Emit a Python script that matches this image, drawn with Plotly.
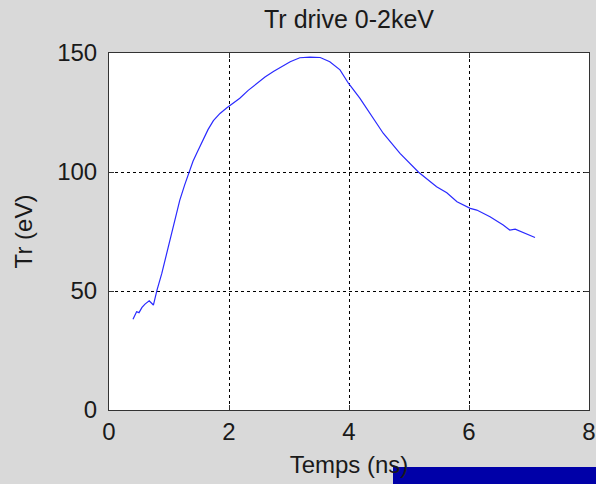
import plotly.graph_objects as go

# Radiation temperature of the drive, 0-2 keV band
time_ns = [0.40, 0.46, 0.50, 0.55, 0.60, 0.67, 0.74, 0.80, 0.88, 0.96, 1.05,
           1.12, 1.18, 1.26, 1.33, 1.40, 1.46, 1.57, 1.65, 1.74, 1.85, 1.96,
           2.07, 2.18, 2.32, 2.46, 2.60, 2.74, 2.88, 3.02, 3.18, 3.35, 3.52,
           3.68, 3.85, 3.99, 4.18, 4.35, 4.57, 4.85, 5.16, 5.46, 5.63, 5.80,
           6.02, 6.13, 6.35, 6.57, 6.68, 6.77, 6.90, 7.10]
tr_ev = [38.1, 41.3, 40.9, 43.1, 44.5, 45.9, 44.1, 50.4, 57.4, 65.8, 74.9,
         82.5, 88.2, 94.5, 99.9, 104.5, 107.8, 113.4, 117.8, 121.6, 124.6, 126.9,
         129.0, 131.0, 134.3, 137.3, 139.9, 142.2, 144.4, 146.3, 148.0, 148.3, 148.1,
         146.3, 142.9, 137.3, 131.0, 124.7, 116.3, 107.8, 99.9, 93.8, 91.3, 87.5,
         84.7, 84.0, 81.2, 77.7, 75.6, 76.0, 74.5, 72.5]

x_ticks = [0, 2, 4, 6, 8]
y_ticks = [0, 50, 100, 150]

W, H = 596, 484
ML, MR, MT, MB = 109, 7, 53, 74
PW, PH = W - ML - MR, H - MT - MB

font_family = "Liberation Sans, Arial, sans-serif"
ink = "#1a1a1a"

fig = go.Figure(go.Scatter(
    x=time_ns, y=tr_ev, mode="lines",
    line=dict(color="#2a2aff", width=1.2),
    showlegend=False,
))

axis_common = dict(
    showline=True, linecolor="#333333", linewidth=1, mirror="allticks",
    ticks="inside", ticklen=5, tickcolor="#333333",
    showgrid=True, gridcolor="#000000", gridwidth=1, griddash="3px,3px",
    zeroline=False, automargin=False,
    tickfont=dict(size=24, color=ink, family=font_family),
)

fig.update_xaxes(range=[0, 8], tickvals=x_ticks,
                 title=dict(text="Temps (ns)", standoff=12,
                            font=dict(size=24, color=ink, family=font_family)),
                 **axis_common)
fig.update_yaxes(range=[0, 150], tickvals=y_ticks, ticklabelstandoff=6,
                 title=dict(text="Tr (eV)", standoff=17,
                            font=dict(size=24, color=ink, family=font_family)),
                 **axis_common)

# Dark blue banner across the lower right corner of the canvas
BANNER_LEFT, BANNER_TOP = 393, 467
plot_bottom = H - MB
fig.add_shape(type="rect", xref="paper", yref="paper",
              x0=(BANNER_LEFT - ML) / PW, x1=(W - ML) / PW,
              y0=(plot_bottom - H) / PH, y1=(plot_bottom - BANNER_TOP) / PH,
              fillcolor="#0000a8", line=dict(width=0), layer="above")

fig.update_layout(
    width=W, height=H,
    margin=dict(l=ML, r=MR, t=MT, b=MB),
    paper_bgcolor="#d9d9d9", plot_bgcolor="#ffffff",
    title=dict(text="Tr drive 0-2keV", x=(ML + PW / 2) / W, xanchor="center",
               y=1 - 19 / H, yanchor="middle",
               font=dict(size=25, color=ink, family=font_family)),
)

fig.write_html("out.html")
